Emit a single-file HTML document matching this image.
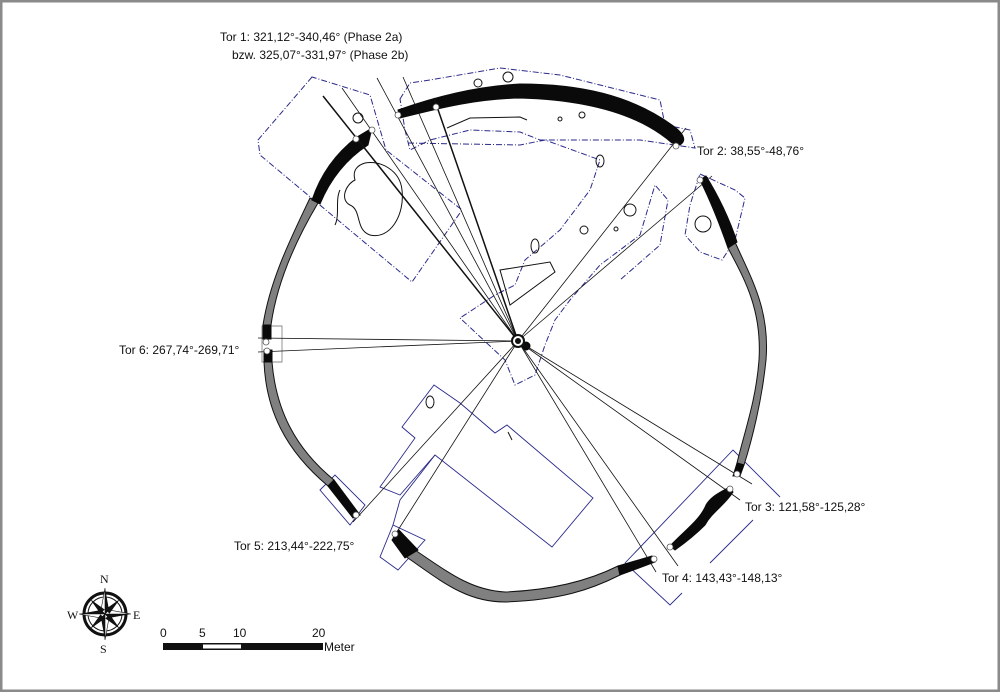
<!DOCTYPE html>
<html><head><meta charset="utf-8"><style>
html,body{margin:0;padding:0;background:#fff}
svg{display:block}
text{font-family:"Liberation Sans","DejaVu Sans",sans-serif;font-size:12px;fill:#111}
</style></head><body>
<svg width="1000" height="692" viewBox="0 0 1000 692" xmlns="http://www.w3.org/2000/svg">
<rect x="1" y="1" width="998" height="690" fill="#fff" stroke="#8a8a8a" stroke-width="3"/>

<!-- blue dashed excavation outlines -->
<g fill="none" stroke="#2a2a8a" stroke-width="1" stroke-dasharray="6,2,1,2">
<path d="M312,77 L258,140 L260,155 L412,282 L462,210 L386,150 L370,95 Z"/>
<path d="M400,99 L410,83 L430,80 L500,68 L560,75 L660,100 L665,125 L690,130 L695,148 L640,140 L600,140 L540,140 L520,132 L470,130 L430,140 L410,150 L405,130 Z"/>
<path d="M408,143 L520,145 L545,140 L600,160 L590,190 L560,230 L525,260 L515,285 L495,295 L460,318 L505,360 L515,385 L535,375 L545,345 L555,320 L570,300 L600,265 L640,235 L655,185 L668,200 L660,245 L620,280"/>
<path d="M700,174 L735,190 L745,198 L735,240 L722,260 L700,252 L685,235 L690,205 Z"/>
</g>
<g fill="none" stroke="#2a2a8a" stroke-width="0.9">
<path d="M402,427 L434,385 L460,403 L495,433 L507,425 L593,498 L552,547 L435,455 L400,495 L380,487 L415,438 Z"/>
<path d="M435,455 L400,500 L393,525"/>
<path d="M320,490 L335,475 L365,505 L350,525 Z"/>
<path d="M380,557 L393,525 L425,540 L398,570 Z"/>
<path d="M625,563 L733,450 L780,497 M625,563 L670,605 L682,593 M710,563 L753,520"/>
<path d="M262,326 L282,326 L282,362 L262,362 Z" stroke="#888"/>
</g>

<!-- features -->
<g fill="none" stroke="#111" stroke-width="1">
<path d="M365,163 C380,160 400,170 402,190 C405,215 390,240 370,235 C355,230 362,210 350,205 C340,200 345,185 355,180 C352,170 358,165 365,163 Z"/>
<path d="M340,190 C335,200 340,215 335,225"/>
<circle cx="358" cy="118" r="5"/><circle cx="630" cy="210" r="6"/><circle cx="584" cy="230" r="4"/>
<circle cx="703" cy="224" r="8"/><circle cx="508" cy="77" r="5"/><circle cx="478" cy="83" r="4"/>
<circle cx="616" cy="229" r="2"/><circle cx="582" cy="115" r="3"/><circle cx="560" cy="119" r="2"/>
<ellipse cx="430" cy="402" rx="4" ry="6"/>
<ellipse cx="535" cy="246" rx="4" ry="7"/><ellipse cx="600" cy="161" rx="4" ry="6"/>
<path d="M447,128 L470,118 L520,117 L527,120"/>
<path d="M500,270 L550,262 L555,272 L510,305 Z"/>
<path d="M508,432 L512,440"/>
</g>

<!-- ring: grey parts -->
<g stroke="#111" stroke-width="1" fill="#808080">
<path d="M310,198 C290,240 270,280 263,325 L271,325 C277,282 296,240 318,203 Z"/>
<path d="M264,362 C266,410 285,450 328,486 L334,480 C295,448 276,410 272,362 Z"/>
<path d="M405,556 C440,580 465,602 505,602 C560,600 590,590 620,575 L618,566 C590,580 555,590 505,592 C470,590 448,572 412,548 Z"/>
<path d="M735,242 C752,280 770,310 766,360 C762,400 752,440 744,465 L737,463 C745,430 756,400 759,360 C762,310 745,280 728,248 Z"/>
</g>
<!-- ring: black parts -->
<g fill="#0a0a0a" stroke="#0a0a0a" stroke-width="1">
<path d="M372,128 L357,137 C340,150 322,170 312,200 L320,204 C330,180 345,160 368,145 Z"/>
<path d="M263,325 L271,325 L271,339 L263,339 Z"/>
<path d="M264,350 L272,350 L272,362 L264,362 Z"/>
<path d="M328,486 L334,480 L360,515 L353,518 Z"/>
<path d="M392,540 L399,530 L418,550 L405,558 Z"/>
<path d="M618,566 L652,556 L655,562 L620,575 Z"/>
<path d="M670,546 C685,530 700,520 706,505 C712,495 722,492 729,487 L733,492 C725,505 712,512 705,525 C695,535 682,545 675,550 Z"/>
<path d="M744,465 L737,463 L733,476 L740,476 Z"/>
<path d="M700,180 L706,176 C718,195 730,220 737,242 L728,248 C720,225 710,200 700,180 Z"/>
<path d="M398,110 C440,95 480,86 520,84 C580,84 630,95 672,125 C682,132 688,140 680,145 L672,143 C640,115 590,100 520,98 C475,99 440,108 400,118 Z"/>
<circle cx="526" cy="346" r="4"/>
</g>

<!-- sight lines -->
<g stroke="#111" fill="none">
<path d="M518,341 L323,96" stroke-width="1.5"/>
<path d="M518,341 L342,88" stroke-width="0.8"/>
<path d="M518,341 L377,78" stroke-width="0.8"/>
<path d="M518,341 L403,77" stroke-width="0.8"/>
<path d="M518,341 L434,98" stroke-width="1.5"/>
<path d="M518,341 L686,128" stroke-width="0.8"/>
<path d="M518,341 L712,176" stroke-width="0.8"/>
<path d="M518,341 L258,338" stroke-width="0.8"/>
<path d="M518,341 L258,352" stroke-width="0.8"/>
<path d="M518,341 L752,484" stroke-width="0.8"/>
<path d="M518,341 L740,500" stroke-width="0.8"/>
<path d="M518,341 L678,566" stroke-width="0.8"/>
<path d="M518,341 L656,572" stroke-width="0.8"/>
<path d="M518,341 L353,522" stroke-width="0.8"/>
<path d="M518,341 L393,538" stroke-width="0.8"/>
</g>
<circle cx="518" cy="341" r="6" fill="#fff" stroke="#111" stroke-width="2"/>
<circle cx="518" cy="341" r="3" fill="#111"/>

<!-- posts -->
<g fill="#fff" stroke="#555" stroke-width="0.8">
<circle cx="372" cy="130" r="3"/><circle cx="356" cy="139" r="3"/>
<circle cx="398" cy="115" r="3"/><circle cx="436" cy="107" r="3"/>
<circle cx="676" cy="146" r="3"/><circle cx="700" cy="180" r="3"/>
<circle cx="266" cy="342" r="3"/><circle cx="267" cy="351" r="3"/>
<circle cx="356" cy="515" r="3"/><circle cx="395" cy="534" r="3"/>
<circle cx="654" cy="559" r="3"/><circle cx="670" cy="547" r="3"/>
<circle cx="737" cy="474" r="3"/><circle cx="730" cy="489" r="3"/>
</g>

<!-- labels -->
<text x="220" y="41">Tor 1: 321,12°-340,46° (Phase 2a)</text>
<text x="232" y="59">bzw. 325,07°-331,97° (Phase 2b)</text>
<text x="697" y="155">Tor 2: 38,55°-48,76°</text>
<text x="745" y="511">Tor 3: 121,58°-125,28°</text>
<text x="662" y="582">Tor 4: 143,43°-148,13°</text>
<text x="234" y="550">Tor 5: 213,44°-222,75°</text>
<text x="119" y="354">Tor 6: 267,74°-269,71°</text>

<!-- compass -->
<g transform="translate(105,614)">
<circle r="21" fill="none" stroke="#111" stroke-width="3"/>
<circle r="17" fill="none" stroke="#111" stroke-width="1"/>
<path d="M0,-26 L4,-4 L0,0 Z M0,26 L-4,4 L0,0 Z M-26,0 L-4,-4 L0,0 Z M26,0 L4,4 L0,0 Z" fill="#111"/>
<path d="M0,-26 L-4,-4 L0,0 Z M0,26 L4,4 L0,0 Z M-26,0 L-4,4 L0,0 Z M26,0 L4,-4 L0,0 Z" fill="#fff" stroke="#111" stroke-width="0.6"/>
<path d="M-15,-15 L-3,2 L15,15 L3,-2 Z M15,-15 L2,3 L-15,15 L-2,-3 Z" fill="#111"/>
<text x="-5" y="-31" style="font-family:'Liberation Serif',serif;font-size:12px">N</text>
<text x="-5" y="39" style="font-family:'Liberation Serif',serif;font-size:12px">S</text>
<text x="-38" y="5" style="font-family:'Liberation Serif',serif;font-size:12px">W</text>
<text x="28" y="5" style="font-family:'Liberation Serif',serif;font-size:12px">E</text>
</g>

<!-- scale bar -->
<rect x="163" y="643" width="160" height="7" fill="#111"/>
<rect x="203" y="644.5" width="38" height="4" fill="#fff"/>
<text x="160" y="637">0</text><text x="199" y="637">5</text><text x="233" y="637">10</text><text x="312" y="637">20</text>
<text x="324" y="651">Meter</text>
</svg>
</body></html>
